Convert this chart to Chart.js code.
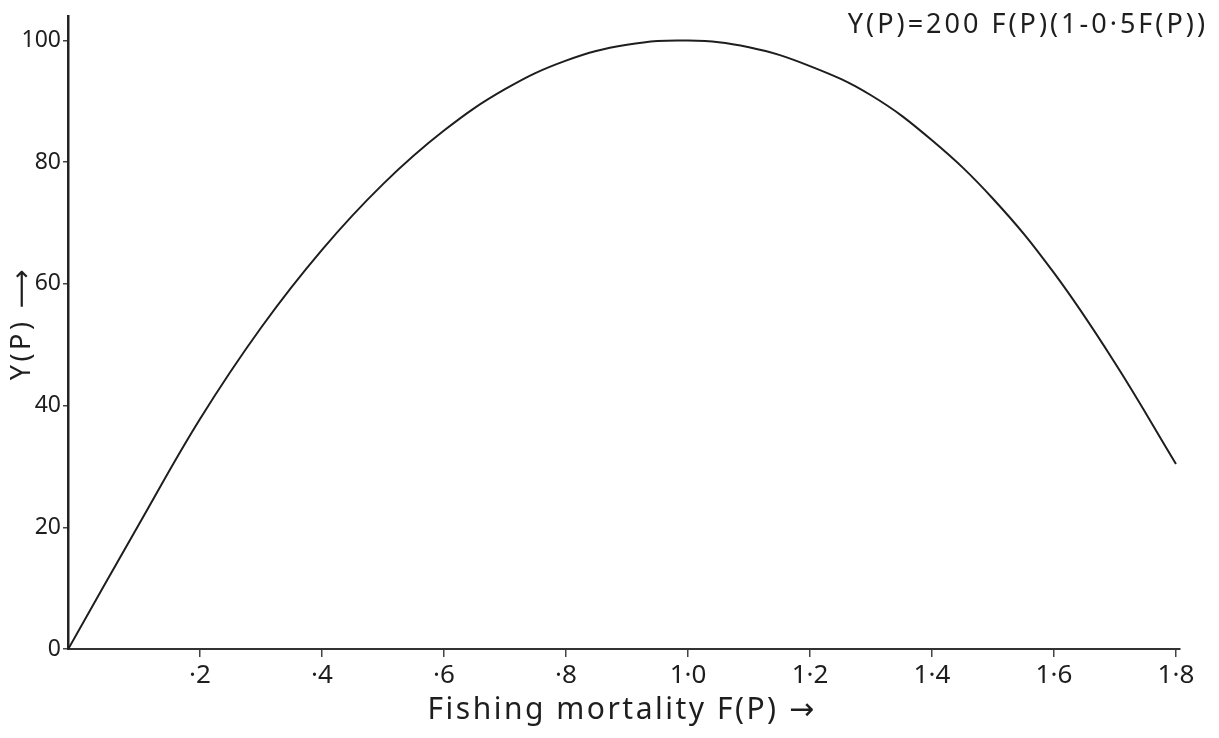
<!DOCTYPE html>
<html>
<head>
<meta charset="utf-8">
<title>Yield curve</title>
<script src="https://cdn.jsdelivr.net/npm/chart.js@4.4.1/dist/chart.umd.min.js"></script>
<style>
  html, body { margin: 0; padding: 0; background: #fff; }
  #wrap { width: 1219px; height: 738px; }
</style>
</head>
<body>
<div id="wrap"><canvas id="yieldChart"></canvas></div>
<script>
// points along the yield curve: fishing mortality F(P) against yield Y(P)
const fishingMortality = [-0.016, 0.1, 0.2, 0.3, 0.4, 0.5, 0.6, 0.7, 0.8, 0.9, 1.0, 1.1, 1.2, 1.3, 1.4, 1.5, 1.6, 1.7, 1.8];
const yieldValues      = [0, 20.5, 37.8, 52.8, 65.6, 76.4, 85.2, 92, 96.7, 99.3, 100, 98.9, 95.8, 91.0, 83.6, 74, 61.8, 47, 30.4];

const xTickValues = [0.2, 0.4, 0.6, 0.8, 1.0, 1.2, 1.4, 1.6, 1.8];
const xTickLabels = ['·2', '·4', '·6', '·8', '1·0', '1·2', '1·4', '1·6', '1·8'];
const yTickValues = [0, 20, 40, 60, 80, 100];
const yTickLabels = ['0', '20', '40', '60', '80', '100'];

const formulaText = 'Y(P)=200 F(P)(1-0·5F(P))';
const xTitle = 'Fishing mortality F(P) →';
const yTitle = 'Y(P) ⟶';
const ink = '#1e1e1e';
const face = '"Noto Sans", "DejaVu Sans", sans-serif';

// hand-lettered style text: wide letter spacing
function spacedText(ctx, text, x, y, size, spacing, align, angle) {
  ctx.save();
  ctx.font = size + 'px ' + face;
  ctx.fillStyle = ink;
  ctx.letterSpacing = spacing + 'px';
  ctx.textAlign = align;
  ctx.textBaseline = 'middle';
  ctx.translate(x, y);
  if (angle) ctx.rotate(angle);
  ctx.fillText(text, 0, 0);
  ctx.restore();
}

const labelsPlugin = {
  id: 'labels',
  afterDraw(chart) {
    const ctx = chart.ctx;
    const area = chart.chartArea;
    spacedText(ctx, formulaText, 1208, 25, 27, 3, 'right');
    spacedText(ctx, xTitle, (area.left + area.right) / 2 - 2, 710, 30, 2.5, 'center');
    spacedText(ctx, yTitle, 22, 323, 27, 3.5, 'center', -Math.PI / 2);
  }
};

const points = fishingMortality.map((f, i) => ({ x: f, y: yieldValues[i] }));

new Chart(document.getElementById('yieldChart'), {
  type: 'line',
  data: {
    datasets: [{
      data: points,
      borderColor: ink,
      borderWidth: 2,
      pointRadius: 0,
      fill: false,
      tension: 0.4
    }]
  },
  options: {
    responsive: true,
    maintainAspectRatio: false,
    animation: false,
    layout: { padding: { left: 0, top: 8, right: 39, bottom: 0 } },
    plugins: {
      legend: { display: false },
      tooltip: { enabled: false }
    },
    scales: {
      x: {
        type: 'linear',
        position: 'bottom',
        min: -0.0164,
        max: 1.8066,
        afterBuildTicks(scale) {
          scale.ticks = xTickValues.map(v => ({ value: v }));
        },
        afterFit(scale) {
          scale.height = 89;
        },
        ticks: {
          autoSkip: false,
          maxRotation: 0,
          padding: 3,
          color: ink,
          font: { family: face, size: 26 },
          callback: (value, index) => xTickLabels[index]
        },
        grid: {
          drawOnChartArea: false,
          drawTicks: true,
          tickLength: 8,
          color: '#444',
          lineWidth: 1.5
        },
        border: { display: true, color: '#333', width: 2 }
      },
      y: {
        min: 0,
        max: 104.06,
        afterBuildTicks(scale) {
          scale.ticks = yTickValues.map(v => ({ value: v }));
        },
        afterFit(scale) {
          scale.width = 68;
        },
        ticks: {
          padding: 2,
          color: ink,
          font: { family: face, size: 23 },
          callback: (value, index) => yTickLabels[index]
        },
        grid: {
          drawOnChartArea: false,
          drawTicks: true,
          tickLength: 5,
          color: '#444',
          lineWidth: 1.5
        },
        border: { display: true, color: '#222', width: 2.5 }
      }
    }
  },
  plugins: [labelsPlugin]
});
</script>
</body>
</html>
